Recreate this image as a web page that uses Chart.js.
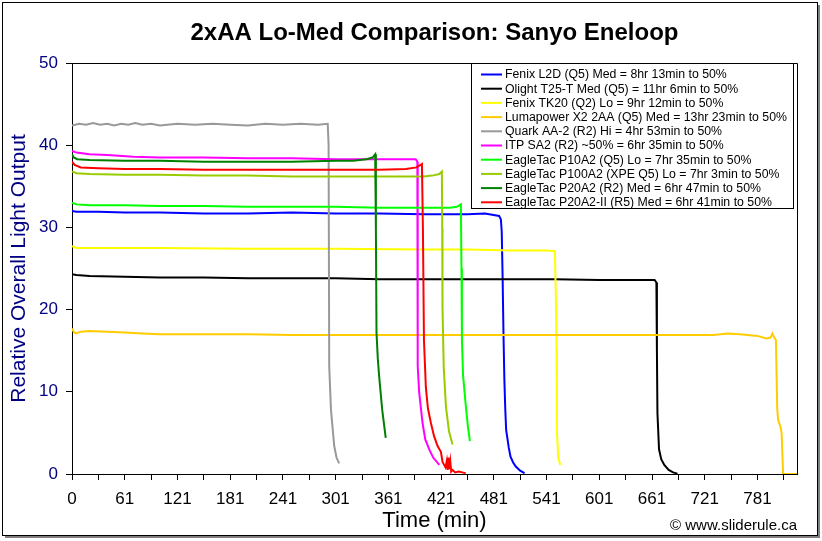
<!DOCTYPE html>
<html><head><meta charset="utf-8">
<script src="https://cdn.jsdelivr.net/npm/chart.js@4/dist/chart.umd.min.js"></script>
<style>html,body{margin:0;padding:0;background:#fff;overflow:hidden}#wrap{position:relative;width:822px;height:541px}</style>
</head><body><div id="wrap"><canvas id="c" width="822" height="541"></canvas></div>
<script>
// ---- text ----
const chartTitle = "2xAA Lo-Med Comparison: Sanyo Eneloop";
const xAxisTitle = "Time (min)";
const yAxisTitle = "Relative Overall Light Output";
const creditText = "\u00A9 www.sliderule.ca";
const xTickLabels = ["0","61","121","181","241","301","361","421","481","541","601","661","721","781"];
const yTickValues = [0,10,20,30,40,50];

// ---- series ----
const seriesNames = [
  "Fenix L2D (Q5) Med = 8hr 13min to 50%",
  "Olight T25-T Med (Q5) = 11hr 6min to 50%",
  "Fenix TK20 (Q2) Lo = 9hr 12min to 50%",
  "Lumapower X2 2AA (Q5) Med = 13hr 23min to 50%",
  "Quark AA-2 (R2) Hi = 4hr 53min to 50%",
  "ITP SA2 (R2) ~50% = 6hr 35min to 50%",
  "EagleTac P10A2 (Q5) Lo = 7hr 35min to 50%",
  "EagleTac P100A2 (XPE Q5) Lo = 7hr 3min to 50%",
  "EagleTac P20A2 (R2) Med = 6hr 47min to 50%",
  "EagleTac P20A2-II (R5) Med = 6hr 41min to 50%"
];
const seriesColors = ["#0000FF","#000000","#FFFF00","#FFCC00","#999999","#FF00FF","#00FF00","#99CC00","#008000","#FF0000"];

const l2dTime   = [0,5,30,60,100,150,200,250,300,350,400,450,470,486,488,489,490,491,492,493,494,497,499,502,505,510,515];
const l2dOutput = [32.0,31.9,31.9,31.8,31.8,31.7,31.7,31.8,31.7,31.7,31.6,31.6,31.7,31.4,31.0,29.5,24,17,11.5,8,5.4,3.2,2.1,1.4,0.9,0.4,0.1];

const t25Time   = [0,5,20,60,100,150,200,250,300,350,400,450,500,550,600,640,663,665,665.6,666.2,668,670.5,674,679,684,689];
const t25Output = [24.3,24.2,24.1,24.0,23.9,23.9,23.8,23.8,23.8,23.7,23.7,23.7,23.7,23.7,23.6,23.6,23.6,23.3,15,7.4,3.0,1.8,1.1,0.5,0.2,0.05];

const tk20Time   = [0,5,30,100,200,300,400,450,500,540,549.5,550.5,551.3,551.8,553.2,555.5];
const tk20Output = [27.7,27.5,27.5,27.5,27.4,27.4,27.3,27.3,27.2,27.2,27.1,22,15.5,5.4,2.1,1.1];

const x2Time   = [0,2,4,10,20,40,60,80,100,150,200,250,300,350,400,450,500,550,600,650,700,730,746,760,780,790,795,797,799,801,802.5,803.5,806,807.5,808.5,809.2,825];
const x2Output = [17.7,17.3,17.1,17.3,17.4,17.3,17.2,17.1,17.0,17.0,17.0,16.9,16.9,16.9,16.9,16.9,16.9,16.9,16.9,16.9,16.9,16.9,17.1,17.0,16.8,16.5,16.6,17.1,16.6,16.3,8,6.6,5.8,5.0,2,0,0];

const quarkTime   = [0,8,16,24,32,40,48,56,64,72,80,90,100,120,140,160,180,200,220,240,260,280,291,292,292.7,294.7,298.4,301,304];
const quarkOutput = [42.4,42.6,42.5,42.7,42.5,42.6,42.4,42.6,42.5,42.7,42.5,42.6,42.4,42.6,42.5,42.6,42.5,42.4,42.6,42.5,42.6,42.5,42.6,40,13.1,7.8,3.4,2.0,1.3];

const sa2Time   = [0,5,20,40,70,100,150,200,250,300,350,391,393,393.2,393.6,395,398.9,402,406.5,411,418];
const sa2Output = [39.3,39.1,38.9,38.8,38.6,38.5,38.5,38.4,38.4,38.3,38.3,38.3,38.0,30,13.1,10,6.2,4.2,3.0,2.0,1.1];

const p10Time   = [0,5,20,60,100,150,200,250,300,350,400,430,438,442.5,443.2,443.7,445,448.2,450.5,452.8];
const p10Output = [33.0,32.8,32.7,32.7,32.6,32.6,32.5,32.5,32.5,32.4,32.4,32.4,32.5,32.8,25,16.3,12,8.2,5.8,4.0];

const p100Time   = [0,5,20,60,100,150,200,250,300,350,400,410,418,420.9,421.3,421.6,423,425.5,429,433];
const p100Output = [36.8,36.6,36.5,36.4,36.4,36.3,36.3,36.2,36.2,36.2,36.2,36.3,36.5,36.8,30,20.4,13,8.2,5.2,3.6];

const p20Time   = [0,2,6,20,60,100,150,200,250,300,320,335,342,345,345.8,346.5,348,349.5,353,357];
const p20Output = [38.9,38.5,38.3,38.2,38.1,38.1,38.0,38.0,38.0,38.1,38.1,38.3,38.5,38.9,30,17.2,14,11.9,7.8,4.4];

const p20iiTime   = [0,3,10,30,60,100,150,200,250,300,350,380,392,398.2,399.3,400.5,402.7,405,408.4,412,416,419.8,421.6,423,425,426.5,427.5,428.5,429.5,430.5,431.5,433,436,440,444,448];
const p20iiOutput = [38.0,37.6,37.3,37.2,37.1,37.1,37.0,37.0,37.0,37.0,37.0,37.1,37.3,37.7,30,16.3,10.5,8.0,6.2,4.6,3.4,2.7,1.5,1.2,0.8,1.6,0.5,2.0,0.6,1.5,0.3,0.5,0.2,0.3,0.2,0.1];

const seriesTimes   = [l2dTime,t25Time,tk20Time,x2Time,quarkTime,sa2Time,p10Time,p100Time,p20Time,p20iiTime];
const seriesOutputs = [l2dOutput,t25Output,tk20Output,x2Output,quarkOutput,sa2Output,p10Output,p100Output,p20Output,p20iiOutput];

const FONT = "'Liberation Sans', Arial, sans-serif";

const datasets = seriesNames.map((name, i) => ({
  label: name,
  data: seriesTimes[i].map((t, k) => ({x: t, y: seriesOutputs[i][k]})),
  borderColor: seriesColors[i],
  backgroundColor: seriesColors[i],
  borderWidth: 2,
  pointRadius: 0,
  tension: 0,
  fill: false,
  order: seriesNames.length - i
}));

const decor = {
  id: 'decor',
  beforeDraw(chart) {
    const ctx = chart.ctx;
    ctx.save();
    ctx.fillStyle = '#fff';
    ctx.fillRect(0, 0, chart.width, chart.height);
    ctx.restore();
  },
  afterDraw(chart) {
    const ctx = chart.ctx;
    const a = chart.chartArea;
    ctx.save();
    // plot box
    ctx.strokeStyle = '#000';
    ctx.lineWidth = 1;
    ctx.beginPath();
    ctx.moveTo(Math.round(a.left) + 0.5, Math.round(a.top) + 0.5);
    ctx.lineTo(Math.round(a.right) + 0.5, Math.round(a.top) + 0.5);
    ctx.lineTo(Math.round(a.right) + 0.5, Math.round(a.bottom) + 0.5);
    ctx.stroke();
    // legend
    const lx = 471, ly = Math.round(a.top), lw = 322, lh = 145;
    ctx.fillStyle = '#fff';
    ctx.fillRect(lx, ly, lw, lh);
    ctx.strokeStyle = '#000';
    ctx.strokeRect(lx + 0.5, ly + 0.5, lw, lh);
    ctx.font = '12.3px ' + FONT;
    ctx.textBaseline = 'middle';
    ctx.textAlign = 'left';
    chart.data.datasets.forEach((ds, i) => {
      const y = ly + 11.5 + i * 14.2;
      ctx.strokeStyle = ds.borderColor;
      ctx.lineWidth = 2;
      ctx.beginPath();
      ctx.moveTo(481, y);
      ctx.lineTo(502, y);
      ctx.stroke();
      ctx.fillStyle = '#000';
      ctx.fillText(ds.label, 505, y + 0.5);
    });
    // title
    ctx.fillStyle = '#000';
    ctx.font = 'bold 24px ' + FONT;
    ctx.textAlign = 'center';
    ctx.fillText(chartTitle, (a.left + a.right) / 2, 33);
    // credit
    ctx.font = '15px ' + FONT;
    ctx.textAlign = 'right';
    ctx.fillText(creditText, 797, 526);
    // outer frame
    ctx.strokeStyle = '#000';
    ctx.lineWidth = 1;
    ctx.strokeRect(2.5, 2.5, 815, 533);
    ctx.fillStyle = '#808080';
    ctx.fillRect(818, 5, 2, 533);
    ctx.fillRect(5, 536, 815, 2);
    ctx.restore();
  }
};

new Chart(document.getElementById('c'), {
  type: 'line',
  data: { datasets },
  options: {
    responsive: false,
    animation: false,
    devicePixelRatio: 1,
    layout: { padding: { top: 63, right: 25, bottom: 0, left: 0 } },
    plugins: { legend: { display: false }, tooltip: { enabled: false }, title: { display: false } },
    scales: {
      x: {
        type: 'linear', min: 0, max: 825,
        afterBuildTicks(s) { s.ticks = []; for (let v = 0; v <= 810; v += 30) s.ticks.push({ value: v }); },
        ticks: {
          autoSkip: false, maxRotation: 0, color: '#000', padding: 9,
          font: { family: FONT, size: 17 },
          callback: (v) => (v % 60 === 0 ? xTickLabels[v / 60] : '')
        },
        grid: { drawOnChartArea: false, drawTicks: true, tickLength: 6, color: '#000' },
        border: { display: true, color: '#000', width: 1 },
        title: { display: true, text: xAxisTitle, color: '#000', font: { family: FONT, size: 22 }, padding: { top: 0, bottom: 7 } },
        afterFit(s) { s.height = 67; }
      },
      y: {
        min: 0, max: 50,
        afterBuildTicks(s) { s.ticks = yTickValues.map(v => ({ value: v })); },
        ticks: { color: '#000080', padding: 8, font: { family: FONT, size: 17 } },
        grid: { drawOnChartArea: false, drawTicks: true, tickLength: 6, color: '#000' },
        border: { display: true, color: '#000', width: 1 },
        title: { display: true, text: yAxisTitle, color: '#000080', font: { family: FONT, size: 21 }, padding: { top: 7, bottom: 0 } },
        afterFit(s) { s.width = 72; }
      }
    }
  },
  plugins: [decor]
});
</script>
</body></html>
